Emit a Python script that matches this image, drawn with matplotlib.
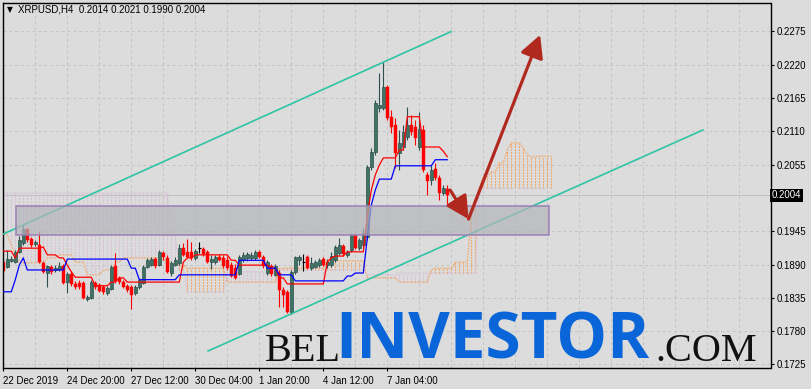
import numpy as np
import matplotlib
matplotlib.use("Agg")
import matplotlib.pyplot as plt
from matplotlib.patches import Rectangle
from matplotlib.transforms import blended_transform_factory

# ---- XRPUSD H4 bars ----
opens = [
    0.1894, 0.1886, 0.1896, 0.1894, 0.1911, 0.1926, 0.1949, 0.1932, 0.1924, 0.1922,
    0.1893, 0.1876, 0.1886, 0.1881, 0.1883, 0.1888, 0.1861, 0.1874, 0.1858, 0.1860,
    0.1860, 0.1833, 0.1835, 0.1860, 0.1856, 0.1853, 0.1843, 0.1850, 0.1888, 0.1868,
    0.1861, 0.1855, 0.1853, 0.1843, 0.1853, 0.1860, 0.1886, 0.1889, 0.1899, 0.1889,
    0.1909, 0.1901, 0.1876, 0.1889, 0.1893, 0.1917, 0.1911, 0.1911, 0.1901, 0.1917,
    0.1916, 0.1911, 0.1894, 0.1894, 0.1902, 0.1901, 0.1897, 0.1889, 0.1884, 0.1874,
    0.1897, 0.1901, 0.1901, 0.1901, 0.1911, 0.1902, 0.1876, 0.1888, 0.1873, 0.1876,
    0.1848, 0.1845, 0.1812, 0.1878, 0.1897, 0.1894, 0.1902, 0.1884, 0.1886, 0.1889,
    0.1899, 0.1889, 0.1889, 0.1897, 0.1909, 0.1921, 0.1906, 0.1914, 0.1939, 0.1917,
    0.1922, 0.1935, 0.2051, 0.2076, 0.2148, 0.2148, 0.2183, 0.2134, 0.2120, 0.2074,
    0.2084, 0.2101, 0.2120, 0.2117, 0.2084, 0.2112, 0.2038, 0.2030, 0.2048, 0.2033,
    0.2008, 0.2014]
highs = [
    0.1901, 0.1914, 0.1904, 0.1914, 0.1937, 0.1955, 0.1950, 0.1935, 0.1931, 0.1944,
    0.1896, 0.1889, 0.1889, 0.1889, 0.1894, 0.1891, 0.1878, 0.1879, 0.1863, 0.1865,
    0.1863, 0.1840, 0.1865, 0.1863, 0.1860, 0.1856, 0.1855, 0.1889, 0.1909, 0.1871,
    0.1865, 0.1858, 0.1856, 0.1856, 0.1868, 0.1889, 0.1901, 0.1902, 0.1902, 0.1914,
    0.1912, 0.1906, 0.1896, 0.1902, 0.1924, 0.1926, 0.1932, 0.1927, 0.1916, 0.1927,
    0.1919, 0.1914, 0.1906, 0.1906, 0.1907, 0.1906, 0.1904, 0.1894, 0.1891, 0.1906,
    0.1911, 0.1911, 0.1911, 0.1914, 0.1914, 0.1906, 0.1897, 0.1891, 0.1891, 0.1881,
    0.1853, 0.1848, 0.1881, 0.1904, 0.1906, 0.1907, 0.1906, 0.1902, 0.1897, 0.1901,
    0.1902, 0.1899, 0.1911, 0.1922, 0.1934, 0.1924, 0.1914, 0.1942, 0.1942, 0.1934,
    0.1950, 0.2054, 0.2082, 0.2162, 0.2206, 0.2224, 0.2186, 0.2145, 0.2132, 0.2112,
    0.2120, 0.2150, 0.2137, 0.2129, 0.2142, 0.2120, 0.2043, 0.2054, 0.2058, 0.2038,
    0.2021, 0.2021]
lows = [
    0.1876, 0.1884, 0.1894, 0.1893, 0.1909, 0.1922, 0.1927, 0.1919, 0.1921, 0.1893,
    0.1876, 0.1853, 0.1874, 0.1878, 0.1879, 0.1858, 0.1843, 0.1855, 0.1850, 0.1850,
    0.1833, 0.1830, 0.1833, 0.1850, 0.1845, 0.1841, 0.1840, 0.1848, 0.1860, 0.1858,
    0.1851, 0.1845, 0.1817, 0.1840, 0.1850, 0.1858, 0.1884, 0.1888, 0.1884, 0.1888,
    0.1897, 0.1876, 0.1871, 0.1888, 0.1889, 0.1904, 0.1901, 0.1897, 0.1897, 0.1909,
    0.1904, 0.1893, 0.1883, 0.1891, 0.1896, 0.1884, 0.1881, 0.1869, 0.1866, 0.1873,
    0.1894, 0.1896, 0.1897, 0.1897, 0.1901, 0.1884, 0.1873, 0.1871, 0.1871, 0.1820,
    0.1820, 0.1810, 0.1808, 0.1874, 0.1889, 0.1879, 0.1883, 0.1881, 0.1884, 0.1886,
    0.1888, 0.1884, 0.1886, 0.1894, 0.1906, 0.1904, 0.1902, 0.1911, 0.1916, 0.1914,
    0.1919, 0.1931, 0.2046, 0.2071, 0.2142, 0.2145, 0.2129, 0.2107, 0.2049, 0.2046,
    0.2079, 0.2096, 0.2104, 0.2087, 0.2079, 0.2043, 0.2005, 0.2021, 0.2030, 0.1997,
    0.2005, 0.1990]
closes = [
    0.1879, 0.1899, 0.1899, 0.1911, 0.1931, 0.1949, 0.1931, 0.1922, 0.1927, 0.1894,
    0.1878, 0.1888, 0.1878, 0.1884, 0.1888, 0.1860, 0.1874, 0.1858, 0.1853, 0.1853,
    0.1835, 0.1836, 0.1861, 0.1853, 0.1846, 0.1845, 0.1851, 0.1886, 0.1863, 0.1861,
    0.1853, 0.1848, 0.1840, 0.1853, 0.1865, 0.1886, 0.1897, 0.1899, 0.1888, 0.1911,
    0.1902, 0.1878, 0.1893, 0.1897, 0.1917, 0.1906, 0.1902, 0.1901, 0.1912, 0.1917,
    0.1907, 0.1894, 0.1899, 0.1902, 0.1897, 0.1888, 0.1884, 0.1871, 0.1868, 0.1902,
    0.1906, 0.1907, 0.1906, 0.1911, 0.1902, 0.1888, 0.1894, 0.1874, 0.1888, 0.1848,
    0.1840, 0.1812, 0.1878, 0.1902, 0.1902, 0.1894, 0.1884, 0.1893, 0.1894, 0.1897,
    0.1889, 0.1894, 0.1904, 0.1919, 0.1922, 0.1907, 0.1911, 0.1939, 0.1917, 0.1931,
    0.1942, 0.2051, 0.2076, 0.2157, 0.2153, 0.2183, 0.2132, 0.2117, 0.2074, 0.2091,
    0.2109, 0.2120, 0.2109, 0.2099, 0.2114, 0.2046, 0.2028, 0.2046, 0.2033, 0.2008,
    0.2016, 0.2004]

# ---- Ichimoku lines, stored as (value, number of bars) runs ----
tenkan_vals = [0.1912, 0.1901, 0.1917, 0.1919, 0.1906, 0.1901, 0.1889, 0.1878, 0.1869,
               0.1855, 0.1861, 0.1868, 0.1861, 0.1894, 0.1901, 0.1906, 0.1897, 0.1889,
               0.1884, 0.1868, 0.1858, 0.1894, 0.1901, 0.1904, 0.1911, 0.1972, 0.2013,
               0.2038, 0.2054, 0.2066, 0.2079, 0.2134, 0.2084, 0.2077, 0.2068]
tenkan_runs = [3, 1, 6, 1, 3, 2, 1, 1, 5, 4, 2, 2, 14, 1, 2, 9, 2, 8, 2, 2, 10, 1, 1, 3,
               5, 1, 1, 1, 1, 4, 2, 4, 5, 1, 1]

kijun_vals = [0.1845, 0.1865, 0.1889, 0.1901, 0.1881, 0.1899, 0.1884, 0.1865, 0.1873,
              0.1897, 0.1884, 0.1873, 0.1863, 0.1871, 0.1876, 0.1934, 0.1988, 0.2013,
              0.2031, 0.2053, 0.2063]
kijun_runs = [3, 1, 1, 1, 10, 16, 2, 10, 15, 7, 3, 4, 13, 2, 3, 1, 1, 1, 4, 10, 4]

span_a_vals = [0.1939, 0.1922, 0.1906, 0.1893, 0.1901, 0.1906, 0.1894, 0.1873, 0.1881,
               0.1894, 0.1901, 0.1897, 0.1889, 0.1884, 0.1861, 0.1884, 0.1896, 0.1868,
               0.1861, 0.1881, 0.1884, 0.1894, 0.1972, 0.1997, 0.2016, 0.2035, 0.2043,
               0.2058, 0.2079, 0.2091, 0.2082, 0.2071, 0.2068, 0.2069]
span_a_runs = [2, 1, 1, 7, 3, 4, 3, 4, 3, 2, 10, 2, 4, 10, 13, 12, 10, 8, 8, 1, 5, 4, 1,
               1, 1, 2, 2, 2, 1, 3, 1, 1, 2, 4]

span_b_vals = [0.2008, 0.1939, 0.1881, 0.1845, 0.1878, 0.1881, 0.1873, 0.1876, 0.2016]
span_b_runs = [42, 2, 2, 10, 13, 22, 8, 20, 19]

# ---- drawn objects ----
zone_bars = (3.2, 136.3)          # support box, bar range
zone_prices = (0.1939, 0.1987)
channel_upper = ([-1.0, 111.9], [0.19374, 0.22744])
channel_lower = ([51.2, 174.9], [0.17473, 0.21121])
arrow_down = ((111.7, 0.2013), (116.3, 0.1965))
arrow_up = ((116.3, 0.1965), (134.2, 0.2269))

price_ticks = [0.1725, 0.1780, 0.1835, 0.1890, 0.1945, 0.2055, 0.2110, 0.2165,
               0.2220, 0.2275]
time_ticks = [0, 16, 32, 48, 64, 80, 96]
time_labels = ["22 Dec 2019", "24 Dec 20:00", "27 Dec 12:00", "30 Dec 04:00",
               "1 Jan 20:00", "4 Jan 12:00", "7 Jan 04:00"]
last_price = 0.2004

BG = "#dcdcdc"
W, H = 811, 389

tenkan = np.repeat(tenkan_vals, tenkan_runs)
kijun = np.repeat(kijun_vals, kijun_runs)
span_a = np.repeat(span_a_vals, span_a_runs)
span_b = np.repeat(span_b_vals, span_b_runs)

fig = plt.figure(figsize=(W / 100, H / 100), dpi=100, facecolor=BG)
ax = fig.add_axes([2.7 / W, (H - 368) / H, (770.5 - 2.7) / W, (368 - 2.7) / H])
ax.set_facecolor(BG)
ax.set_xlim(-0.15, 191.8)
ax.set_ylim(0.17192, 0.23222)

# grid
for kk in range(0, 192, 8):
    ax.axvline(kk, color="#c4c4c4", lw=0.7, ls=(0, (3, 3)), zorder=0)
for p in price_ticks:
    ax.axhline(p, color="#c4c4c4", lw=0.7, ls=(0, (3, 3)), zorder=0)
ax.axhline(last_price, color="#c2c2c2", lw=0.8, zorder=0.5)

# ichimoku cloud
kc = np.arange(len(span_a))
up = span_a >= span_b
dot = (0, (1.6, 1.0))
ax.vlines(kc[up], span_b[up], span_a[up], color="#f4a460", lw=0.8, ls=dot, zorder=1)
ax.vlines(kc[~up], span_a[~up], span_b[~up], color="#d8bfd8", lw=0.8, ls=dot, zorder=1)
ax.plot(kc, span_a, color="#f4a460", lw=0.8, ls=dot, zorder=1.1)
ax.plot(kc, span_b, color="#d8bfd8", lw=0.8, ls=dot, zorder=1.1)

# candles
o = np.array(opens); h = np.array(highs); l = np.array(lows); c = np.array(closes)
k = np.arange(len(o))
bull = c > o
bear = c < o
doji = c == o
ax.vlines(k[bull], l[bull], h[bull], color="#2f4f4f", lw=0.8, zorder=2)
ax.vlines(k[bear], l[bear], h[bear], color="#ff0000", lw=0.8, zorder=2)
ax.vlines(k[doji], l[doji], h[doji], color="black", lw=0.8, zorder=2)
ax.hlines(o[doji], k[doji] - 0.4, k[doji] + 0.4, color="black", lw=0.8, zorder=2)
ax.bar(k[bull], c[bull] - o[bull], bottom=o[bull], width=0.75, color="#3e7462",
       edgecolor="#2f4f4f", lw=0.5, zorder=2.1)
ax.bar(k[bear], o[bear] - c[bear], bottom=c[bear], width=0.75, color="#ff0000",
       edgecolor="#ff0000", lw=0.3, zorder=2.1)

# tenkan / kijun
ax.plot(k, tenkan, color="#ff0000", lw=0.9, zorder=3)
ax.plot(k, kijun, color="#0000ff", lw=0.9, zorder=3)

# channel
ax.plot(*channel_upper, color="#2ec4a6", lw=1.2, zorder=3.5)
ax.plot(*channel_lower, color="#2ec4a6", lw=1.2, zorder=3.5)

# support zone
ax.add_patch(Rectangle((zone_bars[0], zone_prices[0]), zone_bars[1] - zone_bars[0],
                       zone_prices[1] - zone_prices[0], facecolor="#b4b5bb", alpha=0.7,
                       edgecolor="none", zorder=4))
ax.add_patch(Rectangle((zone_bars[0], zone_prices[0]), zone_bars[1] - zone_bars[0],
                       zone_prices[1] - zone_prices[0], facecolor="none",
                       edgecolor="#9a80b4", lw=1.1, zorder=4.1))

# forecast arrows
for start, end in (arrow_down, arrow_up):
    ax.annotate("", xy=end, xytext=start, zorder=5,
                arrowprops=dict(arrowstyle="-|>,head_length=0.8,head_width=0.42",
                                mutation_scale=17, color="#b1281f", lw=2.3,
                                shrinkA=0, shrinkB=0))

# axes styling
for s in ax.spines.values():
    s.set_color("black")
    s.set_linewidth(1.0)
ax.yaxis.tick_right()
ax.set_yticks(price_ticks)
ax.set_yticklabels([f"{p:.4f}" for p in price_ticks])
ax.set_xticks(time_ticks)
ax.set_xticklabels(time_labels, ha="left")
ax.tick_params(axis="both", direction="out", length=2.5, width=0.8, color="black",
               labelsize=7, pad=2)
ax.tick_params(axis="x", pad=3)
for t in ax.get_xticklabels() + ax.get_yticklabels():
    t.set_family("Liberation Sans")

trans = blended_transform_factory(ax.transAxes, ax.transData)
ax.text(1.002, last_price, "0.2004", transform=trans, va="center", ha="left",
        color="white", fontsize=7, family="Liberation Sans", zorder=10,
        bbox=dict(boxstyle="square,pad=0.2", fc="black", ec="none"))

# header
fig.text(7 / W, 1 - 10 / H, "\u25bc", fontsize=5.5, va="center", ha="left",
         family="DejaVu Sans")
fig.text(18 / W, 1 - 10 / H, "XRPUSD,H4  0.2014 0.2021 0.1990 0.2004", fontsize=7,
         va="center", ha="left", family="Liberation Sans")

# watermark
fig.text(265 / W, 1 - 361 / H, "BEL", fontsize=29, family="Liberation Serif",
         color="#111111", va="baseline", ha="left", zorder=20)
fig.text(335 / W, 1 - 358.5 / H, "INVESTOR", fontsize=46, family="Open Sans",
         fontweight="bold", color="#0a66d8", va="baseline", ha="left", zorder=20)
fig.text(655 / W, 1 - 361 / H, ".COM", fontsize=29, family="Liberation Serif",
         color="#111111", va="baseline", ha="left", zorder=20)

fig.savefig("out.png", dpi=100, facecolor=BG)
